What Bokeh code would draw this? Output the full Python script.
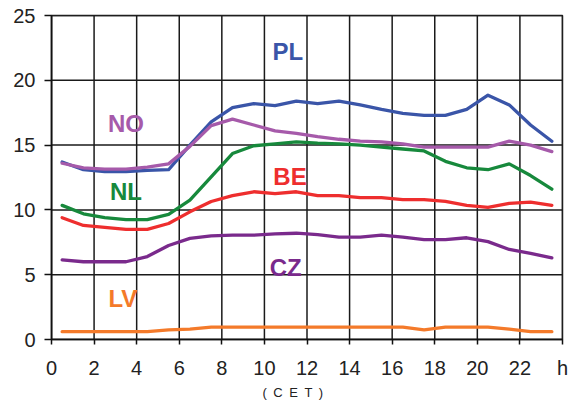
from bokeh.plotting import figure
from bokeh.models import FixedTicker, Label, Span, Title
from bokeh.embed import file_html
from bokeh.resources import INLINE

hours = [0.5, 1.5, 2.5, 3.5, 4.5, 5.5, 6.5, 7.5, 8.5, 9.5, 10.5, 11.5,
         12.5, 13.5, 14.5, 15.5, 16.5, 17.5, 18.5, 19.5, 20.5, 21.5, 22.5, 23.5]

pl = [13.7, 13.1, 12.95, 12.95, 13.05, 13.1, 15.0, 16.8, 17.9, 18.2, 18.05, 18.4,
      18.2, 18.4, 18.1, 17.75, 17.45, 17.3, 17.3, 17.75, 18.85, 18.1, 16.55, 15.3]
no = [13.6, 13.25, 13.15, 13.15, 13.3, 13.55, 14.9, 16.5, 17.0, 16.55, 16.1, 15.9,
      15.65, 15.45, 15.3, 15.25, 15.1, 14.85, 14.85, 14.85, 14.85, 15.3, 15.0, 14.5]
nl = [10.35, 9.7, 9.4, 9.25, 9.25, 9.65, 10.75, 12.55, 14.35, 14.95, 15.1, 15.25,
      15.15, 15.1, 15.0, 14.85, 14.7, 14.55, 13.75, 13.25, 13.1, 13.55, 12.65, 11.6]
be = [9.4, 8.8, 8.65, 8.5, 8.5, 8.95, 9.85, 10.65, 11.1, 11.4, 11.25, 11.4,
      11.1, 11.1, 10.95, 10.95, 10.8, 10.8, 10.65, 10.35, 10.2, 10.5, 10.6, 10.35]
cz = [6.15, 6.0, 6.0, 6.0, 6.4, 7.25, 7.8, 8.0, 8.05, 8.05, 8.15, 8.2,
      8.1, 7.9, 7.9, 8.05, 7.9, 7.7, 7.7, 7.85, 7.55, 6.95, 6.65, 6.3]
lv = [0.6, 0.6, 0.6, 0.6, 0.6, 0.75, 0.8, 0.95, 0.95, 0.95, 0.95, 0.95,
      0.95, 0.95, 0.95, 0.95, 0.95, 0.75, 0.95, 0.95, 0.95, 0.8, 0.6, 0.6]

series_names = ["PL", "NO", "NL", "BE", "CZ", "LV"]
series_values = [pl, no, nl, be, cz, lv]
series_colors = ["#3a55a8", "#a65aaa", "#17893c", "#ee2e2e", "#7a2a8c", "#f47a2a"]
label_x = [11.1, 3.5, 3.5, 11.2, 11.0, 3.35]
label_y = [22.2, 16.7, 11.45, 12.6, 5.55, 3.15]

x_ticks = [0, 2, 4, 6, 8, 10, 12, 14, 16, 18, 20, 22, 24]
x_tick_labels = ["0", "2", "4", "6", "8", "10", "12", "14", "16", "18", "20", "22", "h"]
y_ticks = [0, 5, 10, 15, 20, 25]

p = figure(width=568, height=402, x_range=(0, 24), y_range=(0, 25),
           output_backend="svg", toolbar_location=None,
           min_border_left=51, min_border_right=6, min_border_top=15, min_border_bottom=63)

p.background_fill_color = "white"
p.border_fill_color = "white"
p.outline_line_color = "#222222"
p.outline_line_width = 1.5
p.xgrid.visible = False
p.ygrid.visible = False

for t in x_ticks:
    p.add_layout(Span(location=t, dimension="height", line_color="#1a1a1a",
                      line_width=1.5, level="underlay"))
for t in y_ticks:
    p.add_layout(Span(location=t, dimension="width", line_color="#1a1a1a",
                      line_width=1.5, level="underlay"))

for name, vals, col in zip(series_names, series_values, series_colors):
    p.line(hours, vals, line_color=col, line_width=3.3, line_join="round", line_cap="round")

for name, lx, ly, col in zip(series_names, label_x, label_y, series_colors):
    p.add_layout(Label(x=lx, y=ly, text=name, text_color=col, text_font="Liberation Sans",
                       text_font_style="bold", text_font_size="24px",
                       text_align="center", text_baseline="middle"))

p.add_layout(Title(text="(\u2002C\u2002E\u2002T\u2002)", align="left", offset=211,
                   text_color="#222222", text_font="Liberation Sans",
                   text_font_size="13px", text_font_style="normal", standoff=2), "below")

p.xaxis.ticker = FixedTicker(ticks=x_ticks)
p.xaxis.major_label_overrides = {t: l for t, l in zip(x_ticks, x_tick_labels)}
p.yaxis.ticker = FixedTicker(ticks=y_ticks)

for ax in (p.xaxis[0], p.yaxis[0]):
    ax.axis_line_color = "#111111"
    ax.axis_line_width = 1.5
    ax.major_tick_line_color = "#111111"
    ax.major_tick_line_width = 1.5
    ax.major_tick_in = 0
    ax.minor_tick_line_color = None
    ax.major_label_text_font = "Liberation Sans"
    ax.major_label_text_font_size = "20px"
    ax.major_label_text_color = "#222222"

p.xaxis.major_tick_out = 5
p.xaxis.major_label_standoff = 12
p.yaxis.major_tick_out = 7
p.yaxis.major_label_standoff = 9

open("out.html", "w").write(file_html(p, INLINE))
